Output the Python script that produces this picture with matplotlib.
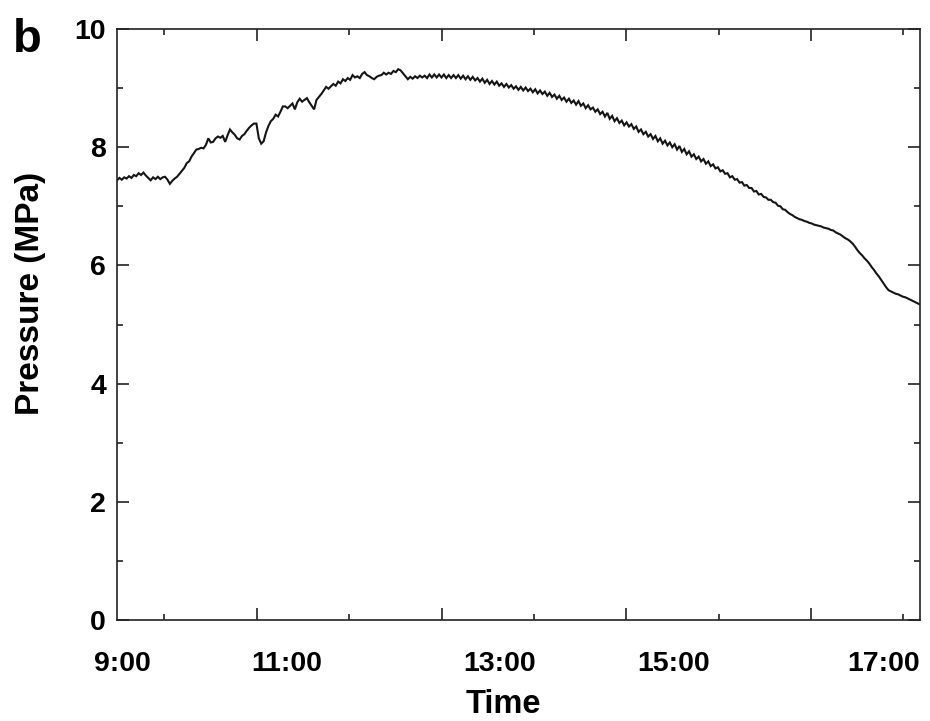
import matplotlib
matplotlib.use('Agg')
import matplotlib.pyplot as plt
import numpy as np

# ---- data ----
t_start = 9.486   # hours (axis units), left edge of the record
t_end = 18.178    # hours (axis units), right edge of the record

pressure = [
    7.44, 7.48, 7.45, 7.49, 7.47, 7.51, 7.48, 7.53, 7.51, 7.56,
    7.53, 7.57, 7.52, 7.48, 7.44, 7.49, 7.46, 7.50, 7.46, 7.49,
    7.50, 7.45, 7.38, 7.43, 7.47, 7.50, 7.55, 7.60, 7.65, 7.73,
    7.76, 7.84, 7.90, 7.96, 7.97, 7.99, 7.98, 8.04, 8.15, 8.08,
    8.09, 8.15, 8.18, 8.16, 8.19, 8.09, 8.20, 8.30, 8.25, 8.21,
    8.15, 8.13, 8.19, 8.22, 8.28, 8.33, 8.37, 8.40, 8.40, 8.15,
    8.06, 8.10, 8.25, 8.36, 8.44, 8.48, 8.55, 8.52, 8.60, 8.69,
    8.69, 8.66, 8.70, 8.74, 8.64, 8.76, 8.82, 8.77, 8.80, 8.83,
    8.76, 8.70, 8.64, 8.80, 8.85, 8.90, 8.96, 9.02, 8.99, 9.03,
    9.07, 9.04, 9.11, 9.08, 9.15, 9.12, 9.17, 9.14, 9.22, 9.18,
    9.20, 9.17, 9.24, 9.27, 9.22, 9.20, 9.17, 9.15, 9.19, 9.21,
    9.22, 9.26, 9.23, 9.26, 9.24, 9.29, 9.27, 9.32, 9.30, 9.25,
    9.20, 9.15, 9.19, 9.16, 9.20, 9.17, 9.21, 9.18, 9.21, 9.17,
    9.23, 9.18, 9.23, 9.18, 9.23, 9.18, 9.23, 9.17, 9.22, 9.17,
    9.22, 9.17, 9.22, 9.16, 9.21, 9.15, 9.20, 9.14, 9.19, 9.13,
    9.17, 9.11, 9.16, 9.09, 9.14, 9.07, 9.12, 9.06, 9.11, 9.04,
    9.08, 9.02, 9.07, 9.01, 9.05, 8.99, 9.03, 8.97, 9.02, 8.96,
    9.01, 8.95, 8.99, 8.93, 8.98, 8.91, 8.96, 8.90, 8.94, 8.87,
    8.92, 8.85, 8.89, 8.82, 8.87, 8.80, 8.84, 8.77, 8.82, 8.75,
    8.79, 8.72, 8.78, 8.70, 8.74, 8.66, 8.71, 8.64, 8.67, 8.60,
    8.64, 8.56, 8.60, 8.52, 8.58, 8.48, 8.53, 8.44, 8.49, 8.41,
    8.45, 8.37, 8.42, 8.35, 8.39, 8.31, 8.35, 8.26, 8.30, 8.22,
    8.26, 8.18, 8.22, 8.14, 8.19, 8.10, 8.15, 8.06, 8.11, 8.03,
    8.08, 8.00, 8.05, 7.96, 8.02, 7.92, 7.97, 7.88, 7.93, 7.84,
    7.88, 7.80, 7.84, 7.76, 7.80, 7.72, 7.76, 7.68, 7.71, 7.64,
    7.66, 7.59, 7.61, 7.55, 7.56, 7.49, 7.51, 7.45, 7.46, 7.40,
    7.41, 7.35, 7.36, 7.31, 7.31, 7.25, 7.26, 7.20, 7.21, 7.16,
    7.15, 7.11, 7.11, 7.07, 7.06, 7.01, 7.00, 6.95, 6.94, 6.90,
    6.87, 6.85, 6.82, 6.80, 6.78, 6.77, 6.75, 6.74, 6.72, 6.71,
    6.69, 6.68, 6.67, 6.66, 6.64, 6.63, 6.62, 6.60, 6.59, 6.56,
    6.54, 6.52, 6.49, 6.46, 6.44, 6.41, 6.37, 6.32, 6.26, 6.21,
    6.17, 6.12, 6.08, 6.03, 5.97, 5.92, 5.86, 5.81, 5.75, 5.69,
    5.63, 5.58, 5.56, 5.54, 5.52, 5.51, 5.49, 5.47, 5.46, 5.44,
    5.42, 5.40, 5.38, 5.36, 5.34,
]

hour_major = [11, 13, 15, 17]
hour_minor = [10, 12, 14, 16, 18]
time_labels = ['9:00', '11:00', '13:00', '15:00', '17:00']
time_label_x = [9.54, 11.32, 13.63, 15.51, 17.79]
y_major = [0, 2, 4, 6, 8, 10]
y_minor = [1, 3, 5, 7, 9]

# ---- figure ----
plt.rcParams['font.family'] = ['Liberation Sans', 'DejaVu Sans']
plt.rcParams['font.weight'] = 'bold'

fig = plt.figure(figsize=(9.3, 7.21), dpi=100)
ax = fig.add_axes([117 / 930, 1 - 620 / 721, 803 / 930, 591 / 721])

times = np.linspace(t_start, t_end, len(pressure))
ax.plot(times, pressure, color='#151515', lw=1.5, solid_joinstyle='miter')

ax.set_xlim(9.486, 18.18)
ax.set_ylim(0, 10)

ax.set_xticks(hour_major)
ax.set_xticks(hour_minor, minor=True)
ax.set_yticks(y_major)
ax.set_yticks(y_minor, minor=True)
ax.set_yticklabels([str(v) for v in y_major], fontsize=20.5, fontweight='bold')

ax.tick_params(which='both', direction='in', top=True, right=True, width=1.2,
               color='#222222')
ax.tick_params(which='major', length=8.5)
ax.tick_params(which='minor', length=4.5)
ax.tick_params(axis='x', labelbottom=False)
ax.tick_params(axis='y', pad=8)

for s in ax.spines.values():
    s.set_linewidth(1.2)
    s.set_color('#222222')

for lbl, xp in zip(time_labels, time_label_x):
    ax.text(xp, -0.0863, lbl, transform=ax.get_xaxis_transform(),
            ha='center', va='baseline', fontsize=20.5, fontweight='bold')

ax.text(0.4807, -0.157, 'Time', transform=ax.transAxes, ha='center',
        va='baseline', fontsize=23.5, fontweight='bold')
ax.text(-0.108, 0.5525, 'Pressure (MPa)', transform=ax.transAxes,
        rotation=90, ha='center', va='center', fontsize=24, fontweight='bold')

fig.text(0.014, 0.928, 'b', fontsize=34, fontweight='bold', ha='left',
         va='baseline')

fig.savefig('out.png', dpi=100)
